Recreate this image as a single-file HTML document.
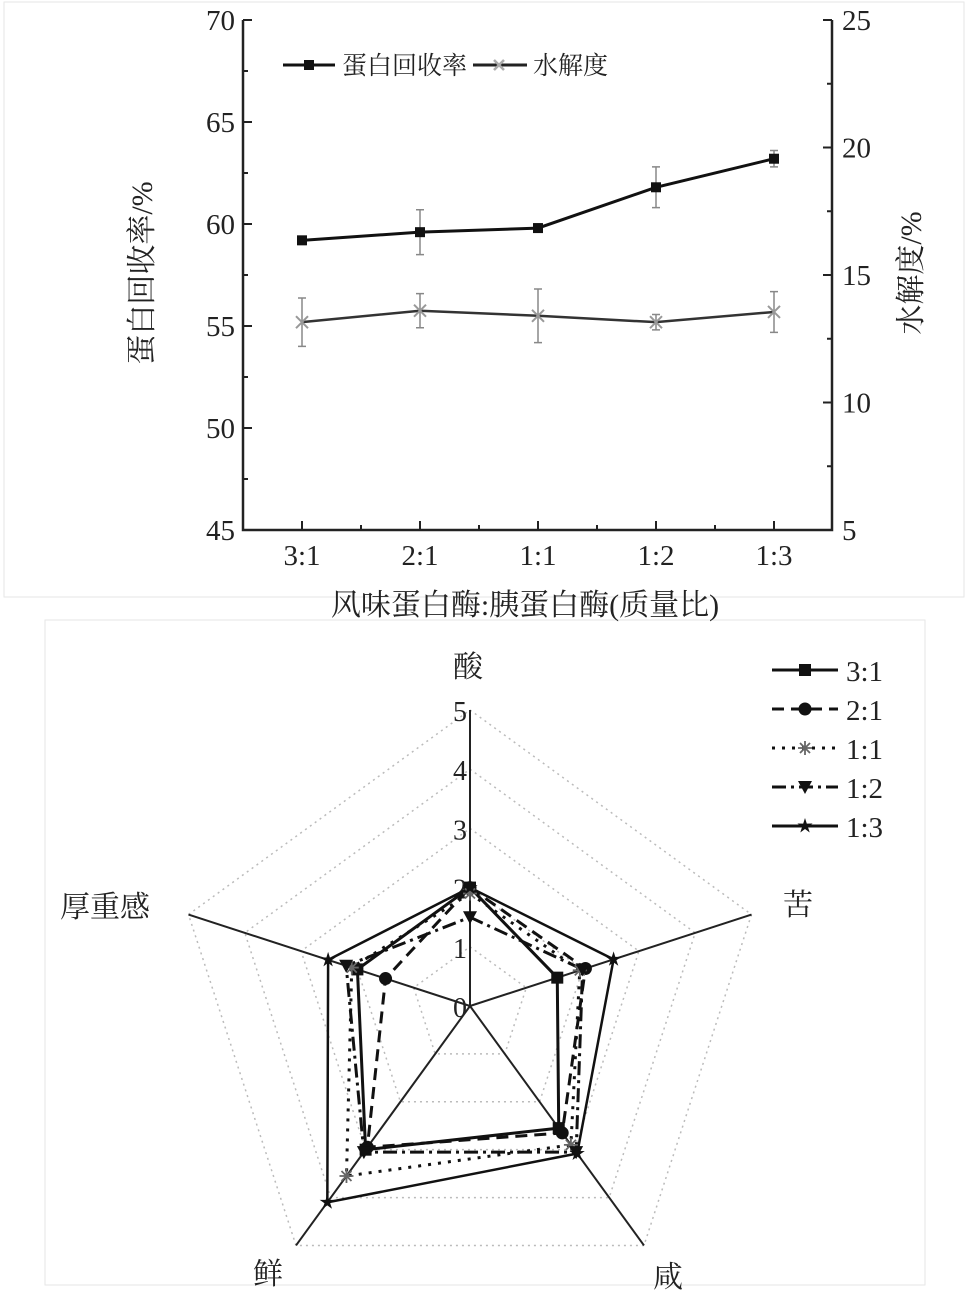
<!DOCTYPE html>
<html><head><meta charset="utf-8">
<style>
body{margin:0;background:#fff;}
svg{display:block;font-family:"Liberation Serif","Noto Serif CJK SC",serif;}
</style></head>
<body>
<svg id="c" width="976" height="1305" viewBox="0 0 976 1305">
<rect x="4" y="2" width="960" height="595" fill="none" stroke="#e6e6e6"/>
<rect x="45" y="620" width="880" height="665" fill="none" stroke="#e6e6e6"/>
<g id="topchart"></g>
<g id="radar"></g>
</svg>
<script>
const categories=["3:1","2:1","1:1","1:2","1:3"];
const recovery=[59.2,59.6,59.8,61.8,63.2];
const recoveryErr=[0.2,1.1,0.2,1.0,0.4];
const hydrolysis=[13.15,13.6,13.4,13.15,13.55];
const hydrolysisErr=[0.95,0.67,1.05,0.3,0.8];
const leftTicks=[45,50,55,60,65,70];
const rightTicks=[5,10,15,20,25];

const radarAxes=["酸","苦","咸","鲜","厚重感"];
const radarTicks=[0,1,2,3,4,5];
const seriesNames=["3:1","2:1","1:1","1:2","1:3"];
const s31=[2.0,1.55,2.55,3.0,2.0];
const s21=[2.0,2.05,2.65,2.95,1.5];
const s11=[1.9,1.95,2.9,3.55,2.1];
const s12=[1.5,2.0,3.05,3.05,2.2];
const s13=[2.0,2.55,3.08,4.1,2.52];

const NS="http://www.w3.org/2000/svg";
function mk(tag,attrs,parent,txt){const el=document.createElementNS(NS,tag);for(const k in attrs)el.setAttribute(k,attrs[k]);if(txt!==undefined)el.textContent=txt;parent.appendChild(el);return el;}

// ---------- top chart ----------
const topG=document.getElementById('topchart');
const X0=243,X1=832,Y0=530,Y1=20;
const xs=i=>302+i*118;
const yL=v=>Y0-(v-45)/(70-45)*(Y0-Y1);
const yR=v=>Y0-(v-5)/(25-5)*(Y0-Y1);
let e;
e=mk('path',{d:`M${X0} ${Y1}V${Y0}H${X1}V${Y1}`,fill:'none',stroke:'#222','stroke-width':2.5},topG);


leftTicks.forEach((t,i)=>{
 const y=yL(t);
 e=mk('line',{x1:X0,x2:X0+9,y1:y,y2:y,stroke:'#222','stroke-width':2},topG);
 
 
 if(i<leftTicks.length-1){const ym=yL(t+2.5);
 e=mk('line',{x1:X0,x2:X0+5,y1:ym,y2:ym,stroke:'#222','stroke-width':2},topG);
 
 }
 e=mk('text',{x:X0-8,y:y+10,'text-anchor':'end','font-size':29,fill:'#222'},topG,String(t));
 
 
});
rightTicks.forEach((t,i)=>{
 const y=yR(t);
 e=mk('line',{x1:X1,x2:X1-9,y1:y,y2:y,stroke:'#222','stroke-width':2},topG);
 
 
 if(i<rightTicks.length-1){const ym=yR(t+2.5);
 e=mk('line',{x1:X1,x2:X1-5,y1:ym,y2:ym,stroke:'#222','stroke-width':2},topG);
 
 }
 e=mk('text',{x:X1+10,y:y+10,'font-size':29,fill:'#222'},topG,String(t));
 
 
});
categories.forEach((c,i)=>{
 const x=xs(i);
 e=mk('line',{x1:x,x2:x,y1:Y0,y2:Y0-9,stroke:'#222','stroke-width':2},topG);
 
 
 if(i<categories.length-1){
 e=mk('line',{x1:x+59,x2:x+59,y1:Y0,y2:Y0-5,stroke:'#222','stroke-width':2},topG);
 
 }
 e=mk('text',{x:x,y:565,'text-anchor':'middle','font-size':29,fill:'#222'},topG,c);
 
 
});
e=mk('text',{x:525,y:615,'text-anchor':'middle','font-size':30,fill:'#222'},topG,'风味蛋白酶:胰蛋白酶(质量比)');


e=mk('text',{x:0,y:0,'text-anchor':'middle','font-size':30,fill:'#222',transform:'translate(152,273) rotate(-90)'},topG,'蛋白回收率/%');


e=mk('text',{x:0,y:0,'text-anchor':'middle','font-size':30,fill:'#222',transform:'translate(921,273) rotate(-90)'},topG,'水解度/%');



function errBar(x,yv,ye,fn,col){
 const a=fn(yv-ye),b=fn(yv+ye);
 e=mk('path',{d:`M${x} ${a}V${b}M${x-4} ${a}H${x+4}M${x-4} ${b}H${x+4}`,stroke:col,'stroke-width':1.5,fill:'none'},topG);
 
 
}
hydrolysis.forEach((v,i)=>errBar(xs(i),v,hydrolysisErr[i],yR,'#888'));
e=mk('polyline',{points:hydrolysis.map((v,i)=>xs(i)+','+yR(v)).join(' '),fill:'none',stroke:'#333','stroke-width':2.5},topG);


hydrolysis.forEach((v,i)=>{const x=xs(i),y=yR(v);
 e=mk('path',{d:`M${x-6} ${y-6}L${x+6} ${y+6}M${x-6} ${y+6}L${x+6} ${y-6}`,stroke:'#999','stroke-width':2},topG);
 
 });
recovery.forEach((v,i)=>errBar(xs(i),v,recoveryErr[i],yL,'#888'));
e=mk('polyline',{points:recovery.map((v,i)=>xs(i)+','+yL(v)).join(' '),fill:'none',stroke:'#111','stroke-width':3},topG);


recovery.forEach((v,i)=>{
 e=mk('rect',{x:xs(i)-5,y:yL(v)-5,width:10,height:10,fill:'#111'},topG);
 
 });
e=mk('line',{x1:283,x2:335,y1:65,y2:65,stroke:'#111','stroke-width':3},topG);


e=mk('rect',{x:304,y:60,width:10,height:10,fill:'#111'},topG);


e=mk('text',{x:342,y:74,'font-size':25,fill:'#222'},topG,'蛋白回收率');


e=mk('line',{x1:473,x2:527,y1:65,y2:65,stroke:'#222','stroke-width':3},topG);


e=mk('path',{d:'M494 60L504 70M494 70L504 60',stroke:'#aaa','stroke-width':2.5},topG);


e=mk('text',{x:533,y:74,'font-size':25,fill:'#222'},topG,'水解度');



// ---------- radar ----------
const rg=document.getElementById('radar');
const CX=470,CY=1006,R=296,MAXV=5;
const ang=k=>(-90+72*k)*Math.PI/180;
const pt=(k,v)=>[CX+Math.cos(ang(k))*v/MAXV*R,CY+Math.sin(ang(k))*v/MAXV*R];
radarTicks.slice(1).forEach(t=>{
 e=mk('polygon',{points:radarAxes.map((a,k)=>pt(k,t).join(',')).join(' '),fill:'none',stroke:'#bbb','stroke-width':1.5,'stroke-dasharray':'2 4'},rg);
 
 
});
radarAxes.forEach((a,k)=>{
 const p=pt(k,MAXV);
 e=mk('line',{x1:CX,y1:CY,x2:p[0],y2:p[1],stroke:'#222','stroke-width':2},rg);
 
 
});
radarTicks.forEach(t=>{
 const p=pt(0,t);
 e=mk('text',{x:p[0]-3,y:p[1]+11,'text-anchor':'end','font-size':28,fill:'#222'},rg,String(t));
 
 
});
const labelPos=[[468,677],[798,915],[668,1287],[268,1284],[105,917]];
radarAxes.forEach((a,k)=>{
 e=mk('text',{x:labelPos[k][0],y:labelPos[k][1],'text-anchor':'middle','font-size':30,fill:'#222'},rg,a);
 
 
});
const series=[s31,s21,s11,s12,s13];
const dashes=['none','12 7','3 7','14 5 3 5','none'];
const widths=[3,3,3,3,2.5];
function marker(kind,x,y,g){
 let m;
 if(kind===0) m=mk('rect',{x:x-6,y:y-6,width:12,height:12,fill:'#111'},g);
 else if(kind===1) m=mk('circle',{cx:x,cy:y,r:6.5,fill:'#111'},g);
 else if(kind===2) m=mk('path',{d:`M${x-7} ${y}H${x+7}M${x} ${y-7}V${y+7}M${x-5} ${y-5}L${x+5} ${y+5}M${x-5} ${y+5}L${x+5} ${y-5}`,stroke:'#666','stroke-width':1.8},g);
 else if(kind===3) m=mk('path',{d:`M${x-7} ${y-6}H${x+7}L${x} ${y+7}Z`,fill:'#111'},g);
 else {let d='';for(let j=0;j<10;j++){const r=j%2?3:8,a=(-90+36*j)*Math.PI/180;d+=(j?'L':'M')+(x+r*Math.cos(a)).toFixed(1)+' '+(y+r*Math.sin(a)).toFixed(1);}m=mk('path',{d:d+'Z',fill:'#111'},g);}
 return m;
}
series.forEach((s,i)=>{
 e=mk('polygon',{points:s.map((v,k)=>pt(k,v).join(',')).join(' '),fill:'none',stroke:'#111','stroke-width':widths[i],'stroke-dasharray':dashes[i]},rg);
 
 
});
series.forEach((s,i)=>{
 s.forEach((v,k)=>{const p=pt(k,v);
  const m=marker(i,p[0],p[1],rg);
  
  });
});
seriesNames.forEach((n,i)=>{
 const y=670+i*39;
 e=mk('line',{x1:772,x2:838,y1:y,y2:y,stroke:'#111','stroke-width':3,'stroke-dasharray':dashes[i]},rg);
 
 
 const m=marker(i,805,y,rg);
 
 
 e=mk('text',{x:846,y:y+11,'font-size':29,fill:'#222'},rg,n);
 
 
});
</script>
</body></html>
